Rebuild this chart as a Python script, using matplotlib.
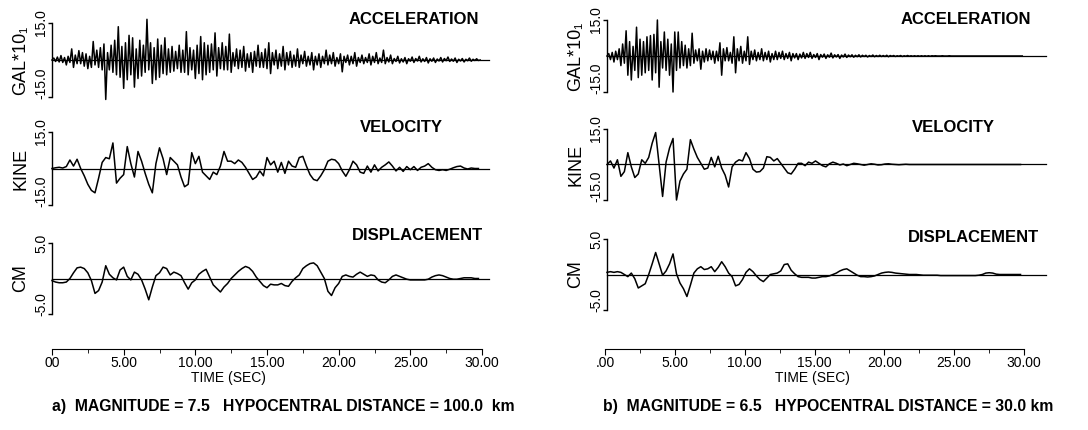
import numpy as np
import matplotlib
matplotlib.use("Agg")
import matplotlib.pyplot as plt

plt.rcParams["font.family"] = ["Liberation Sans", "DejaVu Sans"]

time_acc = np.arange(240) * 0.125
time_s = np.arange(120) * 0.25

# ---- a) M 7.5, 100 km ----
acc_a = [
    0.0, 0.8, -0.6, 1.2, -0.8, 1.8, -1.0, 1.0,
    -2.0, 1.5, -1.0, 4.5, -3.0, 2.0, -1.5, 3.8,
    -1.5, 3.0, -2.5, 2.5, -3.5, 1.5, -3.0, 7.5,
    -2.0, 4.0, -3.0, 5.0, -4.0, 6.5, -16.0, 3.0,
    -4.0, 6.0, -5.0, 8.0, -6.0, 13.5, -7.0, 5.5,
    -11.5, 7.0, -8.0, 10.0, -6.0, 9.0, -11.0, 4.5,
    -7.5, 8.0, -6.5, 6.0, -5.0, 16.5, -4.0, 7.0,
    -9.5, 5.0, -8.0, 8.5, -7.0, 6.0, -5.5, 9.0,
    -6.0, 4.5, -5.0, 5.5, -4.5, 3.5, -3.5, 6.0,
    -5.0, 4.0, -5.0, 11.5, -6.0, 5.0, -4.0, 4.0,
    -7.5, 6.0, -5.5, 9.5, -8.0, 7.0, -6.0, 6.0,
    -5.0, 6.5, -4.0, 11.0, -6.5, 5.0, -3.5, 7.0,
    -4.0, 5.5, -4.0, 10.5, -5.0, 3.0, -2.5, 4.5,
    -3.5, 4.0, -3.0, 5.5, -4.5, 2.5, -3.0, 3.0,
    -5.0, 3.5, -2.5, 6.0, -3.0, 3.0, -3.0, 4.5,
    -3.5, 7.0, -5.5, 3.0, -2.0, 4.0, -3.5, 2.5,
    -2.5, 5.5, -4.0, 3.0, -2.0, 3.5, -3.0, 2.0,
    -2.5, 4.5, -3.0, 2.0, -1.5, 3.5, -2.5, 1.5,
    -2.0, 3.0, -4.0, 1.5, -2.0, 2.5, -3.0, 1.5,
    -1.5, 4.0, -2.0, 2.0, -1.5, 3.0, -2.5, 1.0,
    -1.5, 2.5, -4.8, 1.5, -1.0, 2.0, -2.0, 1.5,
    -1.5, 3.0, -2.5, 1.0, -1.0, 2.0, -1.5, 1.0,
    -1.0, 2.5, -2.0, 1.5, -1.0, 3.0, -1.5, 0.8,
    -1.0, 4.0, -1.5, 1.0, -0.8, 2.0, -1.5, 0.6,
    -0.6, 1.5, -1.2, 0.5, -0.8, 1.0, -1.5, 0.5,
    -0.5, 1.2, -1.0, 0.6, -0.4, 1.5, -0.8, 0.5,
    -0.6, 1.0, -1.2, 0.5, -0.5, 0.8, -1.0, 0.4,
    -0.4, 1.0, -0.8, 0.6, -0.3, 1.2, -0.6, 0.4,
    -0.5, 0.8, -1.0, 0.3, -0.4, 0.6, -0.8, 0.3,
    -0.3, 0.8, -0.5, 0.3, -0.2, 0.5, -0.2, 0.0,
]
vel_a = [
    0.0, 0.3, 0.5, 0.2,   0.8, 3.5, 1.0, 3.8,   0.0, -3.0, -6.5, -9.0,
    -10.0, -4.0, 2.5, 4.5,   4.0, 10.5, -6.0, -4.0,   -2.5, 9.0, 2.0, -3.5,
    7.0, 3.0, -2.0, -6.5,   -10.0, 2.0, 8.5, 4.0,   -2.5, 4.5, 3.0, 1.5,
    -3.5, -7.5, -6.5, 6.5,   2.0, 5.0, -1.5, -3.0,   -4.5, -1.5, -2.5, 1.0,
    7.0, 3.0, 3.0, 2.0,   3.5, 2.5, 0.5, -2.0,   -4.5, -3.5, -1.0, -3.0,
    4.5, 1.5, 3.0, -1.5,   2.5, -2.0, 3.0, 1.0,   0.5, 4.5, 5.0, 1.0,
    -2.5, -4.5, -5.0, -3.0,   -0.5, 3.0, 3.8, 3.5,   2.0, -1.0, -3.2, -0.5,
    3.0, 1.5, -1.5, -2.0,   1.0, -1.5, 1.5, -1.0,   0.5, 1.5, 2.7, 1.0,
    -1.0, 0.5, -1.2, 0.8,   -0.5, 0.8, -0.8, 0.5,   1.0, 2.0, 0.5, -0.5,
    -0.8, -0.5, -0.8, -0.3,   0.3, 0.8, 1.0, 0.2,   -0.2, 0.2, 0.0, 0.0,
]
disp_a = [
    -0.3, -0.5, -0.6, -0.6,   -0.5, 0.0, 0.8, 1.5,   1.6, 1.4, 0.8, -0.3,
    -2.1, -1.7, -0.5, 1.8,   0.6, 0.1, -0.2, 1.2,   1.6, 0.3, -0.2, 0.9,
    0.6, -0.2, -1.5, -3.0,   -1.2, 0.4, 0.8, 1.6,   1.4, 0.5, 0.9, 0.7,
    0.4, -0.6, -1.5, -0.6,   -0.2, 0.6, 1.0, 1.3,   0.2, -0.9, -1.4, -1.9,
    -1.2, -0.7, 0.0, 0.5,   1.0, 1.4, 1.7, 1.5,   1.0, 0.2, -0.4, -1.0,
    -1.3, -0.8, -0.9, -0.9,   -0.7, -1.0, -1.1, -0.4,   0.1, 0.5, 1.4, 1.8,
    2.1, 2.2, 1.8, 0.9,   0.0, -1.8, -2.4, -1.3,   -0.7, 0.3, 0.5, 0.3,
    0.2, 0.6, 0.9, 0.6,   0.3, 0.5, 0.4, -0.2,   -0.5, -0.6, -0.2, 0.3,
    0.5, 0.3, 0.1, -0.1,   -0.2, -0.2, -0.2, -0.2,   -0.2, -0.1, 0.2, 0.4,
    0.5, 0.4, 0.2, 0.0,   -0.1, -0.1, 0.0, 0.1,   0.1, 0.1, 0.0, 0.0,
]

# ---- b) M 6.5, 30 km ----
acc_b = [
    0.0, 1.0, -1.5, 1.5, -2.5, 2.0, -1.5, 3.0,
    -4.0, 5.0, -3.0, 10.5, -8.0, 6.0, -10.0, 4.0,
    -6.0, 12.0, -9.0, 7.0, -8.0, 6.0, -7.0, 8.0,
    -6.0, 8.5, -10.0, 9.0, -7.0, 15.0, -13.0, 6.0,
    -5.0, 10.0, -6.0, 7.0, -8.0, 5.0, -15.0, 10.0,
    -6.0, 10.0, -5.0, 6.0, -4.0, 4.5, -5.0, 3.0,
    -4.0, 9.5, -3.0, 2.5, -2.0, 3.0, -5.5, 2.0,
    -2.5, 3.0, -2.0, 2.5, -1.5, 2.0, -3.0, 2.0,
    -2.0, 5.5, -8.0, 3.0, -2.0, 3.5, -2.0, 1.5,
    -3.0, 8.0, -7.0, 3.0, -2.0, 4.0, -3.0, 2.0,
    -2.0, 8.0, -3.5, 2.0, -1.5, 2.5, -2.0, 1.5,
    -1.5, 3.0, -2.0, 1.5, -1.5, 2.0, -2.5, 1.0,
    -1.5, 2.0, -1.5, 1.5, -1.0, 2.0, -1.5, 1.0,
    -1.0, 1.5, -2.0, 1.0, -0.8, 1.0, -1.5, 0.8,
    -0.8, 1.5, -1.0, 1.0, -0.6, 1.5, -1.0, 0.6,
    -0.6, 1.0, -1.5, 0.6, -0.5, 0.8, -1.0, 0.5,
    -0.5, 1.2, -0.8, 0.5, -0.4, 0.6, -1.0, 0.4,
    -0.4, 0.8, -0.6, 0.4, -0.3, 0.5, -0.5, 0.3,
    -0.3, 0.5, -0.4, 0.3, -0.2, 0.3, -0.4, 0.2,
    -0.2, 0.4, -0.3, 0.2, -0.2, 0.3, -0.2, 0.2,
    -0.2, 0.3, -0.3, 0.2, -0.1, 0.2, -0.2, 0.1,
    -0.1, 0.2, -0.2, 0.1, -0.1, 0.2, -0.1, 0.1,
    -0.1, 0.1, -0.1, 0.1, -0.1, 0.1, -0.1, 0.1,
    -0.1, 0.1, -0.1, 0.1, 0.0, 0.1, 0.0, 0.0,
    0.0, 0.1, 0.0, 0.0, 0.0, 0.1, 0.0, 0.0,
    0.0, 0.0, 0.0, 0.0, 0.0, 0.0, 0.0, 0.0,
    0.0, 0.0, 0.0, 0.0, 0.0, 0.0, 0.0, 0.0,
    0.0, 0.0, 0.0, 0.0, 0.0, 0.0, 0.0, 0.0,
    0.0, 0.0, 0.0, 0.0, 0.0, 0.0, 0.0, 0.0,
    0.0, 0.0, 0.0, 0.0, 0.0, 0.0, 0.0, 0.0,
]
vel_b = [
    0.0, 1.5, -1.5, 2.0,   -5.0, -3.0, 5.0, -1.0,   -5.5, -4.0, 2.0, 0.5,
    3.0, 9.0, 13.5, 0.0,   -13.5, 1.0, 7.0, 11.0,   -15.0, -7.0, -4.0, -2.0,
    10.5, 6.5, 3.0, 0.5,   -2.0, -1.5, 3.0, -1.0,   3.5, -1.5, -4.5, -9.5,
    -1.0, 1.0, 2.0, 1.5,   5.0, 2.5, -2.0, -3.2,   -3.0, -1.5, 3.3, 3.0,
    1.5, 2.5, 0.5, -1.5,   -3.5, -4.0, -2.0, 0.5,   0.5, -0.5, 1.0, 0.5,
    1.5, 0.5, -0.5, -1.0,   0.3, 1.0, 0.5, -0.2,   0.2, -0.5, 0.0, 0.5,
    0.3, 0.0, -0.3, 0.0,   0.3, 0.1, -0.2, -0.1,   0.2, 0.3, 0.1, 0.0,
    -0.1, 0.0, 0.1, 0.0,   0.0, 0.0, 0.0, 0.0,   0.0, 0.0, 0.0, 0.0,
    0.0, 0.0, 0.0, 0.0,   0.0, 0.0, 0.0, 0.0,   0.0, 0.0, 0.0, 0.0,
    0.0, 0.0, 0.0, 0.0,   0.0, 0.0, 0.0, 0.0,   0.0, 0.0, 0.0, 0.0,
]
disp_b = [
    0.3, 0.4, 0.3, 0.4,   0.3, 0.0, -0.3, 0.2,   -0.6, -1.9, -1.6, -1.3,
    0.0, 1.5, 3.1, 1.5,   -0.1, 0.5, 1.5, 2.9,   0.1, -1.2, -2.0, -3.1,
    -1.5, 0.2, 0.8, 1.1,   0.7, 0.8, 1.1, 0.4,   1.0, 1.8, 1.1, 0.2,
    -0.3, -1.6, -1.4, -0.7,   0.3, 0.8, 0.4, -0.2,   -0.7, -1.0, -0.5, 0.0,
    0.1, 0.2, 0.5, 1.4,   1.5, 0.6, 0.1, -0.3,   -0.4, -0.4, -0.4, -0.5,
    -0.5, -0.4, -0.3, -0.3,   -0.2, 0.0, 0.2, 0.5,   0.7, 0.8, 0.5, 0.2,
    -0.1, -0.3, -0.3, -0.35,   -0.3, -0.2, 0.0, 0.2,   0.3, 0.35, 0.3, 0.2,
    0.15, 0.1, 0.05, 0.0,   0.0, 0.0, -0.05, -0.1,   -0.1, -0.1, -0.1, -0.1,
    -0.15, -0.15, -0.15, -0.15,   -0.15, -0.15, -0.15, -0.15,   -0.15, -0.15, -0.15, -0.1,
    0.0, 0.2, 0.25, 0.2,   0.05, 0.0, 0.0, 0.0,   0.0, 0.0, 0.0, 0.0,
]

time_ticks = [0, 5, 10, 15, 20, 25, 30]
tick_labels_a = ["00", "5.00", "10.00", "15.00", "20.00", "25.00", "30.00"]
tick_labels_b = [".00", "5.00", "10.00", "15.00", "20.00", "25.00", "30.00"]
row_titles = ["ACCELERATION", "VELOCITY", "DISPLACEMENT"]
row_units = ["GAL*10\u2081", "KINE", "CM"]
row_limits = [15.0, 15.0, 5.0]
caption_a = "a)  MAGNITUDE = 7.5   HYPOCENTRAL DISTANCE = 100.0  km"
caption_b = "b)  MAGNITUDE = 6.5   HYPOCENTRAL DISTANCE = 30.0 km"

W, H = 1088, 430
fig = plt.figure(figsize=(W / 100, H / 100), dpi=100)


def px_axes(x0, x1, ytop, ybot):
    return fig.add_axes([x0 / W, 1 - ybot / H, (x1 - x0) / W, (ybot - ytop) / H])


def px_text(x, y, s, **kw):
    return fig.text(x / W, 1 - y / H, s, **kw)


def trace(x0, x1, ytop, ybot, tt, series, lim, unit, title, title_x, title_y, line_end):
    ax = px_axes(x0, x1, ytop, ybot)
    ax.set_xlim(0, 30)
    ax.set_ylim(-lim, lim)
    for s in ["top", "right", "bottom"]:
        ax.spines[s].set_visible(False)
    ax.spines["left"].set_linewidth(1.0)
    ax.set_xticks([])
    ax.set_yticks([-lim, lim])
    ax.set_yticklabels([])
    ax.tick_params(axis="y", direction="out", length=3, width=1.0)
    ax.set_facecolor("none")

    ax.plot([0, line_end], [0, 0], color="black", lw=0.9, clip_on=False)
    ax.plot(tt, series, color="black", lw=1.1, clip_on=False)

    # rotated tick values and unit label, left of the bracket
    px_text(x0 - 11, ytop, f"{lim:.1f}", fontsize=10, rotation=90,
            ha="center", va="center")
    px_text(x0 - 11, ybot + 2, f"-{lim:.1f}", fontsize=10, rotation=90,
            ha="center", va="bottom")
    px_text(x0 - 31, (ytop + ybot) / 2, unit, fontsize=13, rotation=90,
            ha="center", va="center")
    px_text(title_x, title_y, title, fontsize=12, fontweight="bold",
            ha="center", va="center")
    return ax


def time_axis(x0, x1, labels, label_x):
    ax = px_axes(x0, x1, 339, 349)
    ax.set_xlim(0, 30)
    for s in ["top", "right", "left"]:
        ax.spines[s].set_visible(False)
    ax.set_yticks([])
    ax.set_xticks(time_ticks)
    ax.set_xticklabels(labels, fontsize=10)
    ax.set_xticks([2.5, 7.5, 12.5, 17.5, 22.5, 27.5], minor=True)
    ax.tick_params(axis="x", which="major", direction="out", length=4, pad=1)
    ax.tick_params(axis="x", which="minor", direction="out", length=3)
    ax.set_facecolor("none")
    px_text(label_x, 378, "TIME (SEC)", fontsize=10, ha="center", va="center")


# panel a
rows_a = [(23, 97, time_acc, acc_a, 414, 19),
          (132, 205, time_s, vel_a, 401, 128),
          (243, 314, time_s, disp_a, 417, 235)]
for (yt, yb, tt, data, tx, ty), lim, unit, title in zip(rows_a, row_limits, row_units, row_titles):
    trace(52, 482, yt, yb, tt, data, lim, unit, title, tx, ty, 30.5)
time_axis(52, 482, tick_labels_a, 228)
px_text(52, 407, caption_a, fontsize=11.3, fontweight="bold", ha="left", va="center")

# panel b
rows_b = [(20, 92, time_acc, acc_b, 966, 19),
          (129, 200, time_s, vel_b, 953, 128),
          (239, 310, time_s, disp_b, 973, 238)]
for (yt, yb, tt, data, tx, ty), lim, unit, title in zip(rows_b, row_limits, row_units, row_titles):
    trace(607, 1024, yt, yb, tt, data, lim, unit, title, tx, ty, 31.6)
time_axis(605, 1024, tick_labels_b, 812)
px_text(603, 407, caption_b, fontsize=11.3, fontweight="bold", ha="left", va="center")

fig.savefig("out.png", dpi=100)
